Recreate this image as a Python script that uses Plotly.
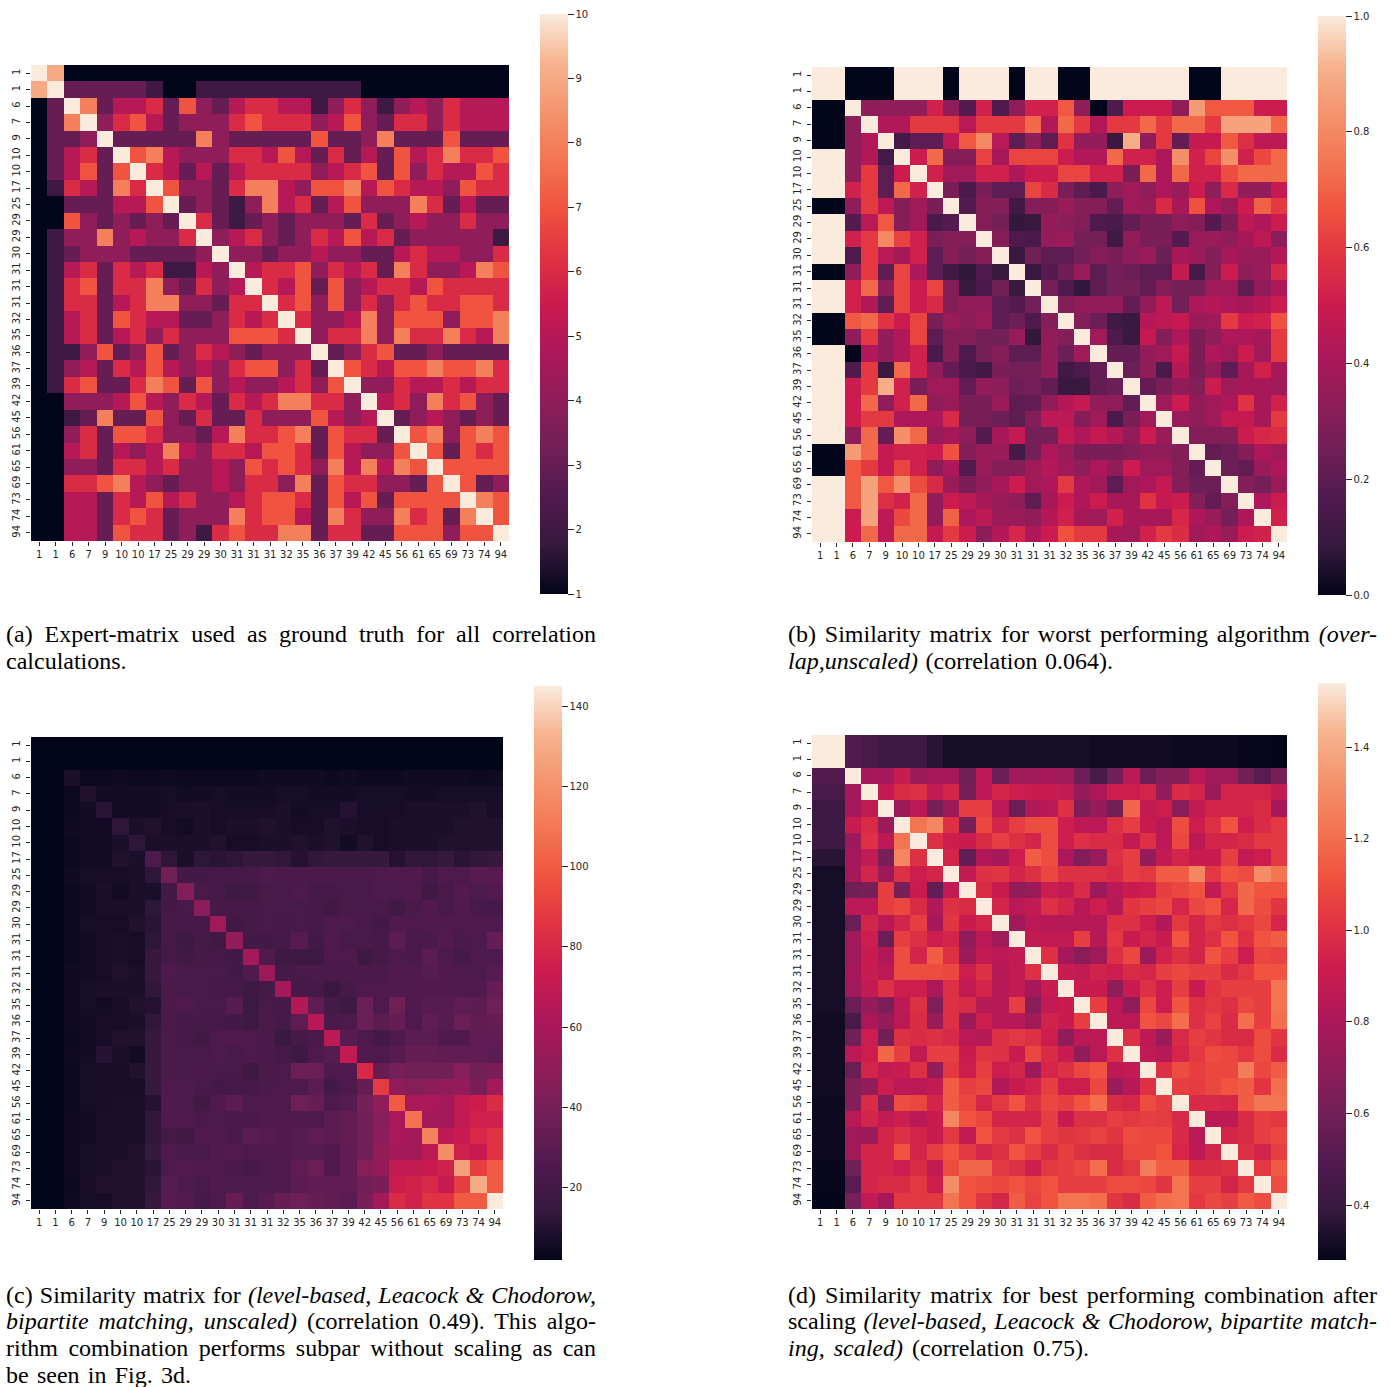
import json
import numpy as np
import plotly.graph_objects as go

W, H = 1391, 1387
labels = [1,1,6,7,9,10,10,17,25,29,29,30,31,31,31,32,35,36,37,39,42,45,56,61,65,69,73,74,94]

expert = [
[10,9,1,1,1,1,1,1,1,1,1,1,1,1,1,1,1,1,1,1,1,1,1,1,1,1,1,1,1],
[9,10,3,3,3,3,3,2,1,1,2,2,2,2,2,2,2,2,2,2,1,1,1,1,1,1,1,1,1],
[1,3,10,8,3, 5,5,6,3,7, 4,3,5,6,6, 5,5,2,4,6, 4,2,4,5,4, 6,5,5,5],
[1,3,8,10,4, 6,7,5,3,4, 4,4,6,7,6, 6,6,4,5,7, 4,3,6,6,4, 6,5,5,5],
[1,3,3,4,10, 3,3,3,3,3, 8,4,3,3,3, 3,3,7,3,3, 4,8,3,3,3, 7,3,3,3],
[1,3,5,6,3, 10,7,8,5,4, 4,4,6,6,5, 7,5,3,6,3, 5,3,7,5,6, 8,6,6,7],
[1,3,5,7,3, 7,10,6,5,3, 5,3,5,6,6, 6,6,4,5,6, 7,3,7,4,6, 5,5,7,6],
[1,2,6,5,3, 8,6,10,7,4, 4,3,6,8,8, 5,4,7,7,8, 5,7,6,5,5, 4,7,6,6],
[1,1,3,3,3, 5,5,7,10,3, 4,3,2,4,8, 5,6,3,5,7, 4,4,4,8,6, 3,5,3,3],
[1,1,7,4,3, 4,3,4,3,10, 6,3,2,3,4, 3,4,4,4,3, 6,3,4,5,4, 4,6,4,4],
[1,2,4,4,8, 4,5,4,4,6, 10,4,5,6,4, 3,4,6,5,7, 5,6,3,4,4, 4,4,4,2],
[1,2,3,4,4, 4,3,3,3,3, 4,10,4,4,3, 4,4,5,4,4, 3,3,5,6,5, 5,4,4,6],
[1,2,5,6,3, 6,5,6,2,2, 5,4,10,5,6, 6,7,4,6,5, 6,3,8,6,4, 4,5,8,7],
[1,2,6,7,3, 6,6,8,4,3, 6,4,5,10,6, 5,7,3,7,4, 5,6,6,5,7, 6,6,6,6],
[1,2,6,6,3, 5,6,8,8,4, 4,3,6,6,10, 6,7,4,7,4, 6,4,6,7,6, 6,7,7,6],
[1,2,5,6,3, 7,6,5,5,3, 3,4,6,5,6, 10,6,4,4,5, 8,4,7,7,7, 4,7,7,8],
[1,2,5,6,3, 5,6,4,6,4, 4,4,7,7,7, 6,10,4,6,6, 8,4,8,6,6, 8,6,5,8],
[1,2,2,4,7, 3,4,7,3,4, 6,5,4,3,4, 4,4,10,3,4, 6,7,3,3,4, 3,3,3,3],
[1,2,4,5,3, 6,5,7,5,4, 5,4,6,7,7, 4,6,3,10,7, 6,5,7,7,8, 7,7,8,6],
[1,2,6,7,3, 3,6,8,7,3, 7,4,5,4,4, 5,6,4,7,10, 4,4,6,5,5, 6,5,6,6],
[1,1,4,4,4, 5,7,5,4,6, 5,3,6,5,6, 8,8,6,6,4, 10,5,6,4,8, 6,7,4,3],
[1,1,2,3,8, 3,3,7,4,3, 6,3,3,6,4, 4,4,7,5,4, 5,10,3,4,5, 4,3,4,3],
[1,1,4,6,3, 7,7,6,4,4, 3,5,8,6,6, 7,8,3,7,6, 6,3,10,7,8, 4,7,8,7],
[1,1,5,6,3, 5,4,5,8,5, 4,6,6,5,7, 7,6,3,7,5, 4,4,7,10,7, 3,7,6,7],
[1,1,4,4,3, 6,6,5,6,4, 4,5,4,7,6, 7,6,4,8,5, 8,5,8,7,10, 7,7,7,7],
[1,1,6,6,7, 8,5,4,3,4, 4,5,4,6,6, 4,8,3,7,6, 6,4,4,3,7, 10,7,3,4],
[1,1,5,5,3, 6,5,7,5,6, 4,4,5,6,7, 7,6,3,7,5, 7,3,7,7,7, 7,10,8,7],
[1,1,5,5,3, 6,7,6,3,4, 4,4,8,6,7, 7,5,3,8,6, 4,4,8,6,7, 3,8,10,7],
[1,1,5,5,3, 7,6,6,3,4, 2,6,7,6,6, 8,8,3,6,6, 3,3,7,7,7, 4,7,7,10],
]

# upper triangles, one row per label, starting on the diagonal
overlap = [
[1,1,0,0,0, 1,1,1,0,1, 1,1,0,1,1, 0,0,1,1,1, 1,1,1,0,0, 1,1,1,1],
[1,0,0,0, 1,1,1,0,1, 1,1,0,1,1, 0,0,1,1,1, 1,1,1,0,0, 1,1,1,1],
[1,.33,.33, .33,.33,.52,.33,.18, .52,.17,.33,.52,.52, .68,.33,0,.17,.5, .5,.5,.33,.85,.68, .68,.68,.5,.5],
[1,.43, .43,.6,.6,.6,.45, .6,.6,.6,.72,.43, .72,.6,.43,.6,.6, .72,.6,.72,.72,.6, .87,.87,.87,.72],
[1, .13,.2,.2,.46,.68, .8,.45,.2,.33,.2, .58,.35,.35,.1,.9, .33,.6,.22,.48,.48, .68,.57,.46,.46],
[1,.5,.72,.3,.3, .62,.4,.63,.63,.63, .5,.43,.43,.72,.52, .52,.42,.82,.52,.63, .82,.52,.64,.72],
[1,.52,.38,.38, .52,.52,.42,.5,.5, .63,.63,.52,.52,.28, .72,.42,.72,.52,.52, .65,.72,.72,.72],
[1,.28,.15, .28,.2,.2,.63,.55, .28,.2,.15,.33,.38, .33,.42,.36,.5,.33, .55,.35,.35,.48],
[1,.18, .3,.3,.12,.3,.3, .36,.3,.3,.22,.38, .36,.55,.4,.66,.42, .36,.5,.7,.6],
[1, .3,.26,.08,.1,.35, .32,.3,.16,.15,.22, .28,.27,.33,.3,.18, .28,.46,.42,.5],
[1,.3,.16,.15,.35, .36,.26,.26,.12,.34, .28,.28,.18,.36,.36, .33,.4,.46,.32],
[1,.1,.25,.2, .2,.25,.3,.28,.32, .36,.24,.4,.36,.3, .4,.36,.36,.44],
[1,.1,.18, .24,.36,.2,.26,.24, .2,.2,.48,.13,.3, .5,.33,.36,.54],
[1,.26, .16,.08,.2,.26,.26, .22,.3,.26,.26,.38, .38,.2,.34,.42],
[1, .3,.34,.34,.34,.22, .34,.46,.26,.42,.44, .42,.4,.44,.5],
[1,.3,.24,.12,.1, .44,.46,.48,.36,.38, .6,.5,.52,.66],
[1,.38,.16,.1, .48,.3,.42,.28,.33, .42,.42,.4,.6],
[1,.22,.22, .34,.38,.48,.28,.42, .38,.5,.38,.6],
[1,.24, .33,.15,.44,.28,.34, .2,.4,.52,.4],
[1, .22,.28,.34,.3,.5, .38,.4,.4,.38],
[1,.38,.5,.34,.38, .42,.58,.4,.52],
[1,.36,.33,.38, .48,.48,.4,.6],
[1,.3,.3, .3,.5,.54,.56],
[1,.22, .24,.3,.42,.38],
[1, .24,.22,.36,.42],
[1,.3,.26,.36],
[1,.42,.5],
[1,.52],
[1],
]

level_unscaled = [
[2]*29,
[2]*28,
[8,4.5,4.5, 5,4.5,4.5,5,4.5, 4.5,4,4.5,4.5,5, 5,5,5,4.5,5, 4.5,4.5,4.5,5,5, 5,5,4.5,5],
[9,6, 6,6,6,6.5,5.5, 6,6.5,6,6,6, 6.5,6.5,6,6,6, 6.5,6.5,6.5,6,6, 6.5,6.5,7,6.5],
[11, 6,6,6,7,8, 8,7,7,7,7, 8,6,7,7,10, 7,7,7,8,8, 8,8,9,7],
[12,8,9,7,6, 8,7,8,8,9, 8,7,7,9,8, 7,7,8,8,8, 8,9,9,9],
[12,8,8,8, 8,9,7,7,8, 8,9,8,9,6, 9,7,8,8,8, 9,9,9,9],
[24,12,8, 12,11,12,15,15, 13,10,13,15,15, 15,14,10,13,13, 14,11,13,15],
[38,20, 20,21,21,21,24, 23,23,23,23,23, 23,24,26,26,21, 24,24,28,29],
[45, 22,21,18,19,22, 22,25,21,21,22, 22,24,24,26,19, 22,27,24,27],
[48,21,21,21,22, 22,22,21,19,22, 23,22,19,23,26, 22,26,22,21],
[56,19,21,22, 21,22,21,25,24, 22,20,26,24,26, 26,25,26,24],
[52,20,20, 21,29,20,26,22, 22,21,30,23,23, 27,23,24,34],
[58,26, 18,17,18,25,25, 18,21,24,23,30, 24,21,24,24],
[55, 21,22,23,23,23, 23,23,26,26,28, 26,24,24,28],
[58,21,21,16,21, 25,25,26,26,26, 26,26,26,34],
[64,31,21,18, 35,25,37,26,28, 28,31,30,37],
[66,23,25, 35,30,34,25,32, 28,35,32,34],
[68,28, 25,20,25,30,30, 26,26,32,32],
[70, 26,25,28,34,34, 32,32,32,30],
[80,34,40,38,38, 38,46,38,42],
[88,50,46,48, 50,52,42,58],
[100,60,60, 58,70,74,82],
[108,58, 58,70,76,76],
[114, 68,72,80,85],
[118,76,72,85],
[125,90,100],
[130,100],
[145],
]

level_scaled = [
[1.54,1.54,.5,.46,.42, .42,.42,.36,.32,.32, .32,.32,.32,.32,.32, .32,.32,.31,.31,.31, .31,.31,.30,.30,.30, .30,.29,.29,.28],
[1.54,.5,.46,.42, .42,.42,.36,.32,.32, .32,.32,.32,.32,.32, .32,.32,.31,.31,.31, .31,.31,.30,.30,.30, .30,.29,.29,.28],
[1.54,.78,.78, .9,.75,.78,.78,.6, .85,.58,.76,.76,.78, .76,.58,.46,.6,.85, .58,.66,.66,.85,.76, .76,.6,.52,.62],
[1.54,.88, .98,1.0,.88,.95,.62, .85,.95,.92,.9,.9, .88,.72,.8,.92,.92, .95,.72,.98,.95,.74, .95,.95,.95,.88],
[1.54, .75,.85,.62,.75,1.05, 1.05,.85,.58,.82,.85, 1.0,.64,.72,.6,1.18, .88,.92,.68,.88,.95, .95,.95,.98,.78],
[1.54,1.22,1.28,1.0,.62, 1.08,.95,1.05,1.1,1.1, .92,.86,.85,1.0,1.05, .9,.85,1.1,.92,1.0, 1.12,.92,.98,1.03],
[1.54,1.0,.92,.9, .98,1.05,1.0,.95,1.1, .92,1.0,.98,.98,.88, 1.0,.85,1.08,.85,.95, .95,.98,1.03,1.03],
[1.54,.95,.55, .82,.78,.92,1.15,1.1, .8,.65,.74,1.0,1.05, .72,.88,.95,.9,.9, 1.05,.88,.92,1.03],
[1.54,.88, 1.0,1.02,.95,1.0,1.08, 1.0,1.0,1.0,.97,1.05, 1.03,1.15,1.15,1.28,1.03, 1.12,1.1,1.3,1.22],
[1.54, .98,.9,.7,.75,.92, .88,.98,.75,.85,.9, .92,1.05,1.08,1.12,.88, 1.03,1.18,1.12,1.12],
[1.54,.95,.85,.88,1.0, .95,.84,.92,.84,1.02, 1.05,1.08,.96,1.08,1.12, .96,1.18,1.1,1.02],
[1.54,.76,.85,.84, .84,.84,.84,1.0,1.0, .92,.82,1.03,.95,1.03, 1.0,1.03,1.08,.96],
[1.54,.88,.88, .88,1.05,.84,1.03,.9, .95,.9,1.12,.95,1.0, 1.12,1.0,1.12,1.15],
[1.54,1.0, .78,.68,.76,1.0,1.08, .75,.94,1.0,.95,1.12, 1.05,.92,1.08,1.06],
[1.54, .9,.88,.94,.92,.98, .96,1.05,1.08,1.05,1.05, .98,1.03,1.12,1.12],
[1.54,.9,.9,.7,.9, 1.0,.92,1.05,.9,1.02, 1.05,1.05,1.05,1.22],
[1.54,1.05,.85,.7, 1.08,.92,1.12,1.0,1.03, 1.0,1.08,1.05,1.22],
[1.54,.86,.85, 1.12,1.08,1.2,1.0,1.06, .98,1.2,1.05,1.2],
[1.54,1.0, .86,.74,.98,1.05,1.02, .98,.98,1.1,1.02],
[1.54, .88,.84,.96,1.03,1.1, 1.08,1.03,1.1,.98],
[1.54,1.0,1.1,1.05,1.08, 1.08,1.25,1.08,1.15],
[1.54,1.05,1.04,1.08, 1.12,1.15,1.02,1.2],
[1.54,.97,.97, .96,1.15,1.22,1.22],
[1.54,.85, .86,.98,1.05,1.03],
[1.54, .95,.98,1.05,1.08],
[1.54,1.0,.95,1.05],
[1.54,1.03,1.14],
[1.54,1.1],
[1.54],
]

rocket = [[0,"#03051a"],[.0833,"#35193e"],[.1667,"#501a4f"],[.25,"#701f57"],[.333,"#8f1d5a"],
          [.4167,"#ad1759"],[.5,"#cb1b4f"],[.5833,"#e13342"],[.667,"#f0533f"],[.75,"#f37651"],
          [.833,"#f4946f"],[.9167,"#f6b48f"],[1,"#faebdd"]]

def mirror(rows):
    n = len(labels)
    m = np.zeros((n, n))
    for i, r in enumerate(rows):
        assert len(r) == n - i, (i, len(r))
        m[i, i:] = r
        m[i:, i] = r
    return m

M = [np.array(expert, float), mirror(overlap), mirror(level_unscaled), mirror(level_scaled)]
panels = [
    dict(box=(31,509,65,541),  cb=(540,14,594),  rng=(1,10),      ticks=[1,2,3,4,5,6,7,8,9,10]),
    dict(box=(812,1287,67,542),cb=(1318,16,595), rng=(0,1),       ticks=[0,.2,.4,.6,.8,1.0]),
    dict(box=(31,503,737,1209),cb=(534,686,1260),rng=(2,145),     ticks=[20,40,60,80,100,120,140]),
    dict(box=(812,1287,735,1209),cb=(1318,683,1260),rng=(.28,1.54),ticks=[.4,.6,.8,1.0,1.2,1.4]),
]
cap_font = dict(family="Liberation Serif", size=24, color="#000000")
# left edge, vertical centre, text, full line width
captions = [
    (5,  634, "(a) Expert-matrix used as ground truth for all correlation", 590),
    (5,  661, "calculations.", 121),
    (787,634, "(b) Similarity matrix for worst performing algorithm <i>(over-</i>", 589),
    (787,661, "<i>lap,unscaled)</i> (correlation 0.064).", 325),
    (5,  1295,"(c) Similarity matrix for <i>(level-based, Leacock &amp; Chodorow,</i>", 590),
    (5,  1321,"<i>bipartite matching, unscaled)</i> (correlation 0.49). This algo-", 590),
    (5,  1348,"rithm combination performs subpar without scaling as can", 590),
    (5,  1375,"be seen in Fig. 3d.", 185),
    (787,1295,"(d) Similarity matrix for best performing combination after", 589),
    (787,1321,"scaling <i>(level-based, Leacock &amp; Chodorow, bipartite match-</i>", 589),
    (787,1348,"<i>ing, scaled)</i> (correlation 0.75).", 301),
]

fig = go.Figure()
idx = list(range(len(labels)))
tick_font = dict(family="DejaVu Sans", size=10, color="#262626")
for k, (p, z) in enumerate(zip(panels, M)):
    x0, x1, y0, y1 = p["box"]
    cx, cy0, cy1 = p["cb"]
    s = "" if k == 0 else str(k + 1)
    fig.add_trace(go.Heatmap(
        z=z, x=idx, y=idx, xaxis="x" + s, yaxis="y" + s,
        colorscale=rocket, zmin=p["rng"][0], zmax=p["rng"][1], hoverongaps=False,
        colorbar=dict(
            x=cx / W, xanchor="left", xpad=0, y=1 - cy1 / H, yanchor="bottom", ypad=0,
            thickness=28, thicknessmode="pixels", len=cy1 - cy0, lenmode="pixels",
            outlinewidth=0, tickvals=p["ticks"], ticks="outside", ticklen=6, tickwidth=1,
            tickcolor="#262626", tickfont=tick_font, borderwidth=0,
            tickformat=".1f" if k in (1, 3) else "d",
        ),
    ))
    common = dict(tickvals=idx, ticktext=[str(v) for v in labels], ticks="outside", ticklen=4,
                  tickwidth=1, tickcolor="#262626", tickfont=tick_font, showgrid=False,
                  zeroline=False, showline=False)
    fig.update_layout(**{
        "xaxis" + s: dict(domain=[x0 / W, x1 / W], range=[-.5, 28.5], tickangle=0,
                          anchor="y" + s, **common),
        "yaxis" + s: dict(domain=[1 - y1 / H, 1 - y0 / H], range=[28.5, -.5], tickangle=-90,
                          anchor="x" + s, ticklabelstandoff=2, **common),
    })

for x, y, t, _ in captions:
    fig.add_annotation(x=x / W, y=1 - y / H, xref="paper", yref="paper", text=t, showarrow=False,
                       xanchor="left", yanchor="middle", align="left", font=cap_font, borderpad=0)

fig.update_layout(width=W, height=H, margin=dict(l=0, r=0, t=0, b=0), paper_bgcolor="white",
                  plot_bgcolor="white", showlegend=False)

# the source captions are justified: stretch the word gaps of each line to its full width
justify = """
document.body.style.margin='0';
var widths = %s;
document.querySelectorAll('.annotation-text').forEach(function (t, i) {
  var gaps = t.textContent.split(' ').length - 1;
  if (gaps > 0) {
    var extra = (widths[i] - t.getComputedTextLength()) / gaps;
    t.style.wordSpacing = extra + 'px';
  }
});
""" % json.dumps([c[3] for c in captions])
fig.write_html("out.html", post_script=justify, config={"displayModeBar": False})
